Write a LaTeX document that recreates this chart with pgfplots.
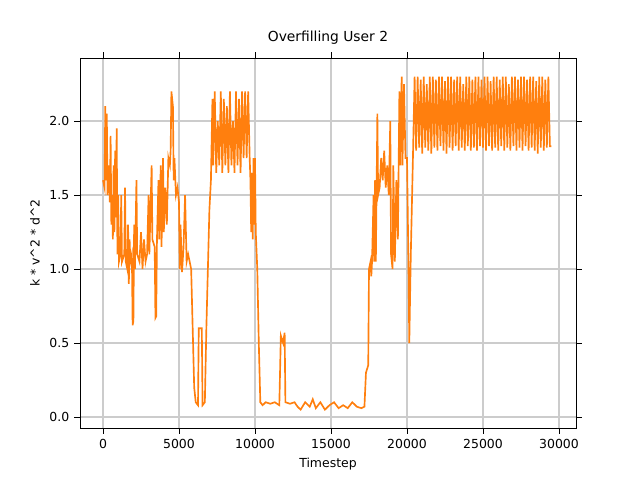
\documentclass[border=0pt]{standalone}
\usepackage{pgfplots}
\pgfplotsset{compat=1.18}
\usepackage{fontspec}
\setmainfont{DejaVu Sans}
\definecolor{mplorange}{HTML}{FF7F0E}
\begin{document}
\begin{tikzpicture}
\path[use as bounding box] (-0.8in,-0.52in) rectangle (5.6in,4.28in);
\begin{axis}[scale only axis, width=4.96in, height=3.7in,
 xmin=-1513, xmax=31118, ymin=-0.074, ymax=2.426,
 xtick={0,5000,10000,15000,20000,25000,30000},
 ytick={0,0.5,1,1.5,2},
 yticklabel style={/pgf/number format/.cd,fixed,fixed zerofill,precision=1},
 scaled x ticks=false,
 xticklabel style={/pgf/number format/.cd,1000 sep={}},
 /pgf/number format/assume math mode=true,
 grid=major, grid style={gray!40,line width=0.8pt},
 tick align=outside, tick style={black},
 ticklabel style={font=\small},
 title={Overfilling User 2}, xlabel={Timestep}, ylabel={k * v\^{}2 * d\^{}2},
 label style={font=\small}]
\addplot[mplorange, line width=1.2pt] coordinates {
(0,1.6)(100,1.55)(150,2.1)(200,1.6)(250,2.05)(300,1.5)(400,1.7)(450,1.45)(500,1.9)(550,1.3)(600,1.5)(650,1.2)(700,1.7)(750,1.25)(800,1.8)(850,1.35)(900,1.95)(950,1.1)(1000,1.5)(1050,1.05)(1150,1.1)(1200,1.5)(1250,1.05)(1400,1.1)(1450,1.55)(1500,1.05)(1600,1.0)(1650,1.3)(1700,0.9)(1750,1.2)(1800,1.05)(1900,1.1)(1950,0.62)(2000,0.65)(2050,1.3)(2100,1.0)(2200,1.6)(2250,1.1)(2400,1.05)(2500,1.25)(2600,1.0)(2700,1.2)(2800,1.05)(2900,1.1)(3000,1.5)(3050,1.1)(3200,1.7)(3250,1.2)(3400,1.15)(3450,0.67)(3500,0.68)(3550,1.2)(3650,1.6)(3700,1.2)(3800,1.7)(3850,1.15)(3950,1.75)(4000,1.25)(4100,1.55)(4200,1.3)(4300,1.75)(4400,1.7)(4450,1.8)(4500,2.2)(4600,2.1)(4650,1.6)(4700,1.75)(4800,1.5)(4900,1.55)(5000,1.45)(5050,1.0)(5100,1.3)(5200,0.98)(5300,1.15)(5400,1.5)(5500,1.05)(5600,1.1)(5700,1.05)(5800,1.0)(5900,0.6)(6000,0.2)(6100,0.1)(6250,0.08)(6300,0.6)(6500,0.6)(6550,0.08)(6700,0.1)(6800,0.6)(6900,1.0)(7000,1.4)(7100,1.6)
(7200,2.15)(7250,1.7)(7350,2.2)(7450,1.65)(7550,2.0)(7650,1.7)(7750,2.2)(7850,1.65)(7950,2.15)(8050,1.7)(8150,2.1)(8250,1.65)(8350,2.2)(8450,1.7)(8550,2.0)(8650,1.65)(8750,2.2)(8850,1.7)(8950,2.15)(9050,1.65)(9150,2.2)(9250,1.75)(9350,2.2)(9450,1.75)(9550,2.2)(9650,1.75)(9700,1.6)(9750,1.25)(9800,1.65)(9850,1.2)(9900,1.75)(9950,1.3)(10000,1.75)(10050,1.25)(10150,1.0)(10250,0.5)(10350,0.1)(10500,0.08)(10700,0.1)(11000,0.09)(11300,0.1)(11600,0.08)(11700,0.55)(11850,0.5)(11950,0.57)(12000,0.1)(12300,0.09)(12600,0.1)(12800,0.07)(13000,0.05)(13300,0.1)(13600,0.07)(13800,0.12)(14000,0.06)(14300,0.1)(14600,0.05)(14900,0.08)(15200,0.1)(15500,0.06)(15800,0.08)(16100,0.06)(16400,0.1)(16700,0.07)(17000,0.06)(17200,0.07)(17300,0.3)(17450,0.35)(17500,1.0)(17600,1.05)(17650,0.95)(17700,1.05)(17800,1.5)(17850,1.05)(17900,1.6)(17950,1.05)(18050,2.05)(18100,1.5)(18200,1.55)(18300,1.75)(18400,1.6)(18500,1.8)(18600,1.55)(18700,1.7)(18800,1.5)(18900,2.0)(18950,1.1)(19050,1.0)(19100,1.7)(19200,1.05)(19300,1.6)(19400,1.2)(19500,2.2)(19550,1.7)(19650,2.3)(19700,1.7)(19800,2.25)(19900,1.75)(20000,1.75)(20100,1.0)(20150,0.5)(20250,1.1)(20400,1.8)
(20500,2.3)(20600,1.8)(20700,2.3)(20800,1.82)(20900,2.28)(21000,1.78)(21100,2.3)(21200,1.82)(21300,2.25)(21400,1.8)(21500,2.3)(21600,1.78)(21700,2.3)(21800,1.82)(21900,2.28)(22000,1.8)(22100,2.3)(22200,1.83)(22300,2.3)(22400,1.8)(22500,2.27)(22600,1.78)(22700,2.3)(22800,1.82)(22900,2.3)(23000,1.8)(23100,2.28)(23200,1.83)(23300,2.3)(23400,1.8)(23500,2.3)(23600,1.82)(23700,2.25)(23800,1.8)(23900,2.3)(24000,1.83)(24100,2.3)(24200,1.8)(24300,2.28)(24400,1.82)(24500,2.3)(24600,1.8)(24700,2.3)(24800,1.83)(24900,2.28)(25000,1.82)(25100,2.3)(25200,1.8)(25300,2.3)(25400,1.83)(25500,2.27)(25600,1.8)(25700,2.3)(25800,1.82)(25900,2.3)(26000,1.8)(26100,2.28)(26200,1.83)(26300,2.3)(26400,1.8)(26500,2.3)(26600,1.82)(26700,2.25)(26800,1.8)(26900,2.3)(27000,1.83)(27100,2.3)(27200,1.8)(27300,2.28)(27400,1.82)(27500,2.3)(27600,1.8)(27700,2.3)(27800,1.83)(27900,2.28)(28000,1.8)(28100,2.3)(28200,1.82)(28300,2.3)(28400,1.8)(28500,2.27)(28600,1.78)(28700,2.3)(28800,1.82)(28900,2.3)(29000,1.8)(29100,2.28)(29200,1.82)(29300,2.3)(29400,1.83)(29500,1.83)
};
\end{axis}
\end{tikzpicture}
\end{document}
